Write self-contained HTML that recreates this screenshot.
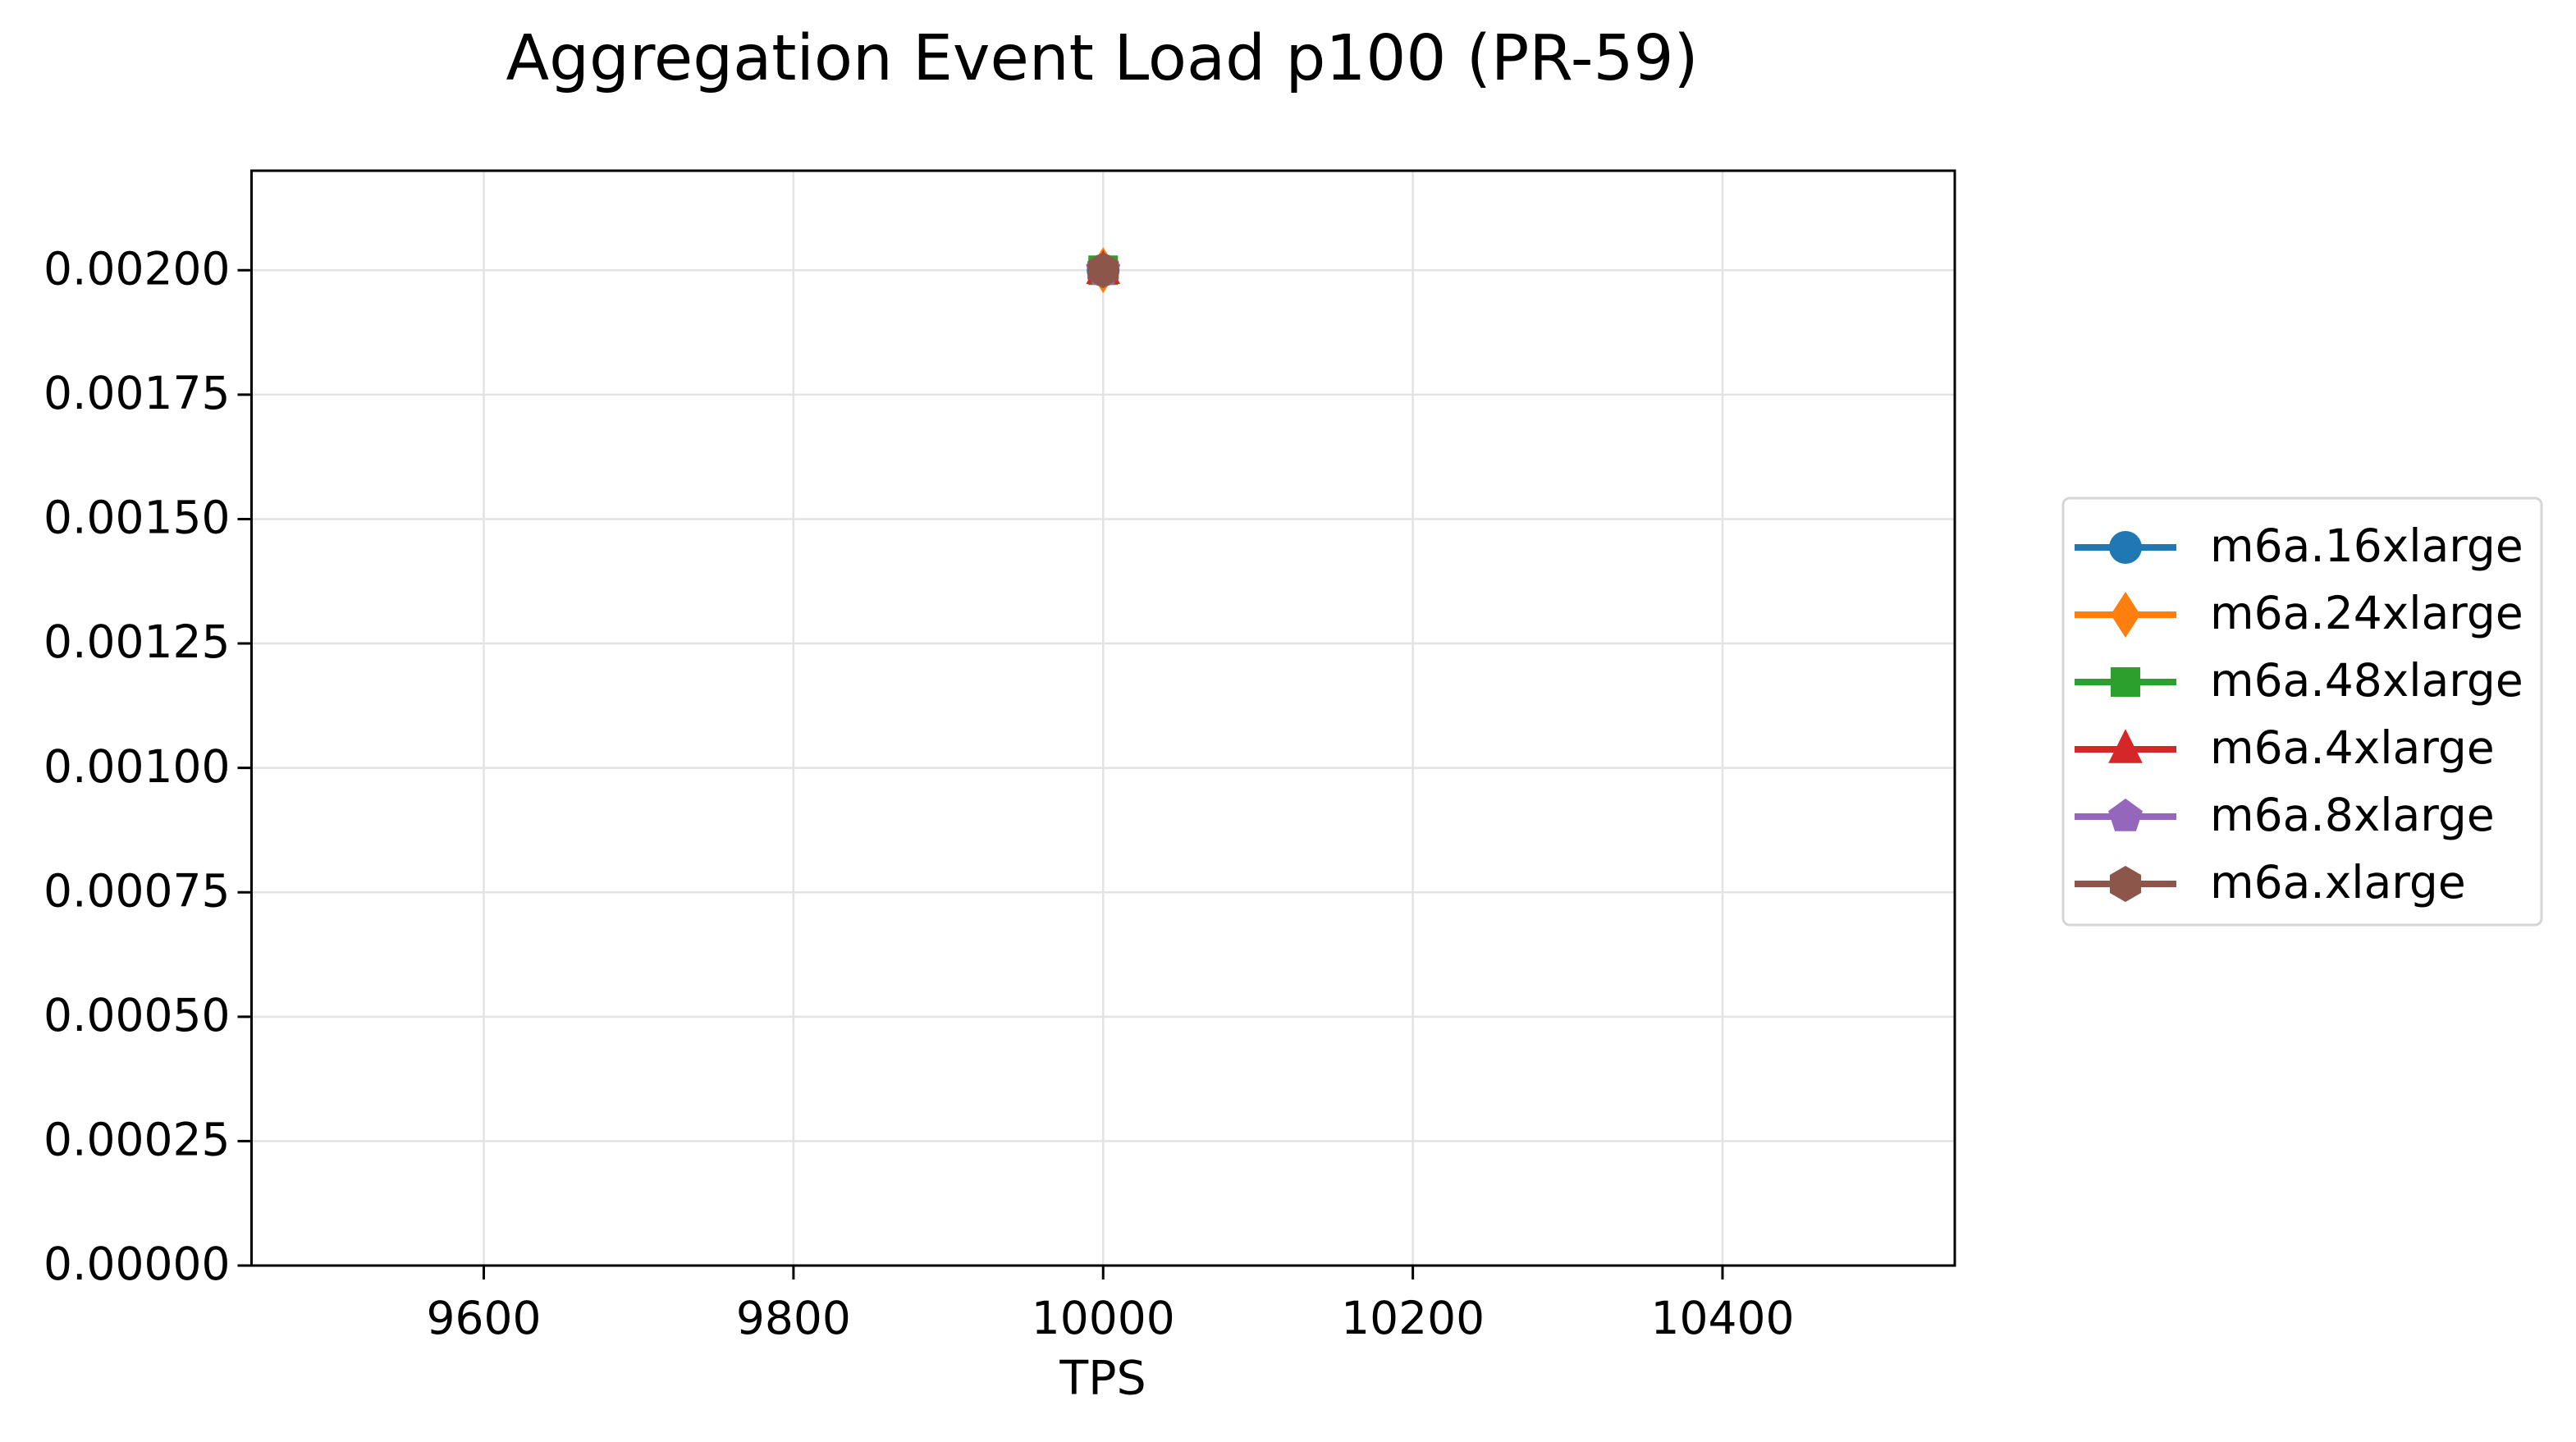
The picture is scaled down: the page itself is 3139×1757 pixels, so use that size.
<!DOCTYPE html>
<html><head><meta charset="utf-8"><style>
html,body{margin:0;padding:0;background:#fff;}
svg{display:block;font-family:"DejaVu Sans","Liberation Sans",sans-serif;}
</style></head><body>
<svg id="chart" width="3139" height="1757" viewBox="0 0 3139 1757" xmlns="http://www.w3.org/2000/svg">
<rect width="3139" height="1757" fill="#fff"/>
<text x="1343" y="76" font-size="77" text-anchor="middle" dominant-baseline="middle">Aggregation Event Load p100 (PR-59)</text>
<g id="grid"></g>
<g id="axes"></g>
<g id="series"></g>
<text x="1344" y="1683" font-size="57" text-anchor="middle" dominant-baseline="middle">TPS</text>
<g id="legend"></g>
</svg>
<script>
const categories = ["m6a.16xlarge","m6a.24xlarge","m6a.48xlarge","m6a.4xlarge","m6a.8xlarge","m6a.xlarge"];
const xValues = [[10000],[10000],[10000],[10000],[10000],[10000]];
const yValues = [[0.002],[0.002],[0.002],[0.002],[0.002],[0.002]];
const xTicks = [9600,9800,10000,10200,10400];
const yTicks = [0,0.00025,0.0005,0.00075,0.001,0.00125,0.0015,0.00175,0.002];
const yTickLabels = ["0.00000","0.00025","0.00050","0.00075","0.00100","0.00125","0.00150","0.00175","0.00200"];
const xDomain = [9450,10550];
const yDomain = [0,0.0022];

const L=306.5,R=2382,T=208,B=1542;
const FS=55;
const colors=["#1f77b4","#ff7f0e","#2ca02c","#d62728","#9467bd","#8c564b"];
const markers=["circle","diamond","square","triangle","pentagon","hexagon"];
const NS="http://www.w3.org/2000/svg";
function xs(v){return L+(v-xDomain[0])/(xDomain[1]-xDomain[0])*(R-L);}
function ys(v){return B-(v-yDomain[0])/(yDomain[1]-yDomain[0])*(B-T);}
function mk(tag,attrs,parent){const e=document.createElementNS(NS,tag);for(const k in attrs)e.setAttribute(k,attrs[k]);parent.appendChild(e);return e;}
function markerShape(type,cx,cy,s,color,parent){
  let e;
  if(type==="circle"){e=mk("circle",{cx:cx,cy:cy,r:s*0.5,fill:color},parent);}
  else if(type==="square"){e=mk("rect",{x:cx-s*0.45,y:cy-s*0.45,width:s*0.9,height:s*0.9,fill:color},parent);}
  else{
    let pts=[];
    if(type==="diamond"){pts=[[0,-0.7],[0.45,0],[0,0.7],[-0.45,0]];}
    else if(type==="triangle"){pts=[[0,-0.62],[0.52,0.42],[-0.52,0.42]];}
    else{const n=type==="pentagon"?5:6;for(let i=0;i<n;i++){const a=-Math.PI/2+i*2*Math.PI/n;pts.push([0.55*Math.cos(a),0.55*Math.sin(a)]);}}
    e=mk("polygon",{points:pts.map(p=>(cx+p[0]*s)+","+(cy+p[1]*s)).join(" "),fill:color},parent);
  }
  return e;
}
const grid=document.getElementById("grid"),axes=document.getElementById("axes"),series=document.getElementById("series"),legend=document.getElementById("legend");
xTicks.forEach(t=>{
  const x=xs(t);
  const g=mk("line",{x1:x,x2:x,y1:T,y2:B,stroke:"#e3e3e3","stroke-width":2.5},grid);
  
  
  const tk=mk("line",{x1:x,x2:x,y1:B,y2:B+17,stroke:"#000","stroke-width":3},axes);
  
  
  const lb=mk("text",{x:x,y:1610,"font-size":FS,"text-anchor":"middle","dominant-baseline":"middle"},axes);
  lb.textContent=t;
  
  
});
yTicks.forEach((t,i)=>{
  const y=ys(t);
  const g=mk("line",{x1:L,x2:R,y1:y,y2:y,stroke:"#e3e3e3","stroke-width":2.5},grid);
  
  
  const tk=mk("line",{x1:L-17,x2:L,y1:y,y2:y,stroke:"#000","stroke-width":3},axes);
  
  
  const lb=mk("text",{x:L-26,y:y+2,"font-size":FS,"text-anchor":"end","dominant-baseline":"middle"},axes);
  lb.textContent=yTickLabels[i];
  
  
});
const frame=mk("rect",{x:L,y:T,width:R-L,height:B-T,fill:"none",stroke:"#000","stroke-width":3},axes);



categories.forEach((c,si)=>{
  const g=mk("g",{},series);
  
  
  const pts=xValues[si].map((x,j)=>[xs(x),ys(yValues[si][j])]);
  if(pts.length>1){
    const pl=mk("polyline",{points:pts.map(p=>p.join(",")).join(" "),fill:"none",stroke:colors[si],"stroke-width":8},g);
    
    
  }
  pts.forEach(p=>{
    const m=markerShape(markers[si],p[0],p[1],40,colors[si],g);
    
    
  });
});

const lb=mk("rect",{x:2514,y:607,width:583,height:520,rx:8,fill:"#fff",stroke:"#d5d5d5","stroke-width":3},legend);


categories.forEach((c,i)=>{
  const y=667+i*82;
  const g=mk("g",{},legend);
  
  
  mk("line",{x1:2528,x2:2652,y1:y,y2:y,stroke:colors[i],"stroke-width":8},g);
  markerShape(markers[i],2590,y,40,colors[i],g);
  const t=mk("text",{x:2693,y:y+2,"font-size":FS,"dominant-baseline":"middle"},g);
  t.textContent=c;
});
</script>
</body></html>
